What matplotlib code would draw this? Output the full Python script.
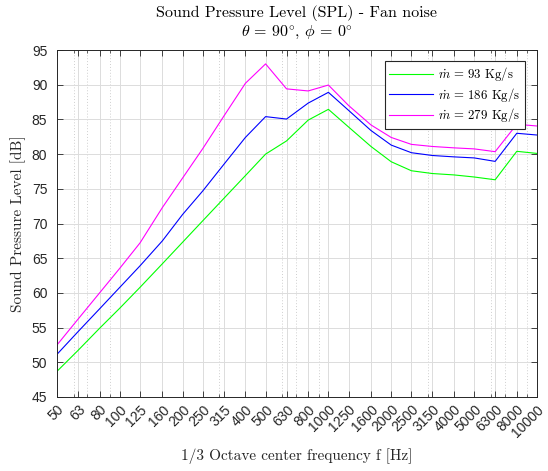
import numpy as np
import matplotlib
matplotlib.use("Agg")
import matplotlib.pyplot as plt
from matplotlib.ticker import FixedLocator, LogLocator, NullFormatter

plt.rcParams['mathtext.fontset'] = 'cm'
plt.rcParams['axes.formatter.use_mathtext'] = True

# 1/3 octave band centre frequencies [Hz]
freqs = [50, 63, 80, 100, 125, 160, 200, 250, 315, 400, 500, 630, 800, 1000,
         1250, 1600, 2000, 2500, 3150, 4000, 5000, 6300, 8000, 10000]
freq_labels = [str(f) for f in freqs]

# SPL [dB] for each mass flow
spl_93 = [48.7, 51.7, 54.9, 57.8, 60.8, 64.2, 67.3, 70.4, 73.6, 76.9, 80.0, 81.9,
          84.9, 86.45, 83.9, 81.1, 78.9, 77.6, 77.2, 77.0, 76.7, 76.3, 80.4, 80.1]
spl_186 = [51.15, 54.4, 57.7, 60.8, 63.9, 67.5, 71.3, 74.7, 78.5, 82.4, 85.4, 85.05,
           87.35, 88.9, 86.3, 83.4, 81.3, 80.2, 79.8, 79.6, 79.45, 78.95, 83.0, 82.75]
spl_279 = [52.5, 56.2, 60.0, 63.55, 67.2, 72.3, 76.55, 80.8, 85.45, 90.2, 93.0, 89.4,
           89.1, 89.95, 87.0, 84.2, 82.4, 81.4, 81.1, 80.9, 80.75, 80.35, 84.3, 84.05]
mass_flows = [93, 186, 279]
colors = ['#00ff00', '#0000ff', '#ff00ff']

axcol = '#262626'
serif = 'cmr10'
sans = 'Liberation Sans'

fig = plt.figure(figsize=(5.48, 4.71), dpi=100)
ax = fig.add_axes([57 / 548, 1 - 397 / 471, 480 / 548, 347 / 471])

for spl, mdot, c in zip([spl_93, spl_186, spl_279], mass_flows, colors):
    ax.plot(freqs, spl, color=c, lw=0.8, label=r'$\dot{m}$ = %d Kg/s' % mdot)

ax.set_xscale('log')
ax.set_xlim(50, 10000)
ax.set_ylim(45, 95)
ax.xaxis.set_major_locator(FixedLocator(freqs))
ax.xaxis.set_minor_locator(LogLocator(base=10, subs=np.arange(2, 10)))
ax.xaxis.set_minor_formatter(NullFormatter())
ax.set_xticklabels(freq_labels, rotation=45, ha='right', rotation_mode='anchor',
                   fontfamily=sans, fontsize=10, color=axcol)
ax.set_yticks(np.arange(45, 96, 5))
ax.set_yticklabels([str(v) for v in range(45, 96, 5)], fontfamily=sans,
                   fontsize=10, color=axcol)

ax.tick_params(which='both', direction='in', top=True, right=True, colors=axcol)
ax.tick_params(which='major', length=4, width=0.6)
ax.tick_params(axis='x', which='major', pad=4)
ax.tick_params(axis='y', which='major', pad=7)
ax.tick_params(which='minor', length=2, width=0.5)
for s in ax.spines.values():
    s.set_color(axcol)
    s.set_linewidth(0.7)

ax.grid(which='major', color='#dcdcdc', lw=0.7, ls='-')
ax.grid(which='minor', axis='x', color='#cfcfcf', lw=0.7, ls=(0, (1, 2)))
ax.set_axisbelow(True)

ax.set_xlabel('1/3 Octave center frequency f [Hz]', fontfamily=serif, fontsize=11,
              color=axcol, labelpad=6)
ax.set_ylabel('Sound Pressure Level [dB]', fontfamily=serif, fontsize=11,
              color=axcol, labelpad=4)
ax.set_title('Sound Pressure Level (SPL) - Fan noise\n'
             r'$\theta$ = 90$^{\circ}$, $\phi$ = 0$^{\circ}$',
             fontfamily=serif, fontsize=11.5, color='black', pad=10, linespacing=1.2)

leg = ax.legend(loc='upper right', fancybox=False, framealpha=1, edgecolor=axcol,
                prop={'family': serif, 'size': 9.2}, handlelength=3.4,
                borderpad=0.35, labelspacing=0.2, handletextpad=0.45,
                borderaxespad=0, bbox_to_anchor=(0.975, 0.969))
leg.get_frame().set_linewidth(0.8)

fig.savefig('out.png', dpi=100)
